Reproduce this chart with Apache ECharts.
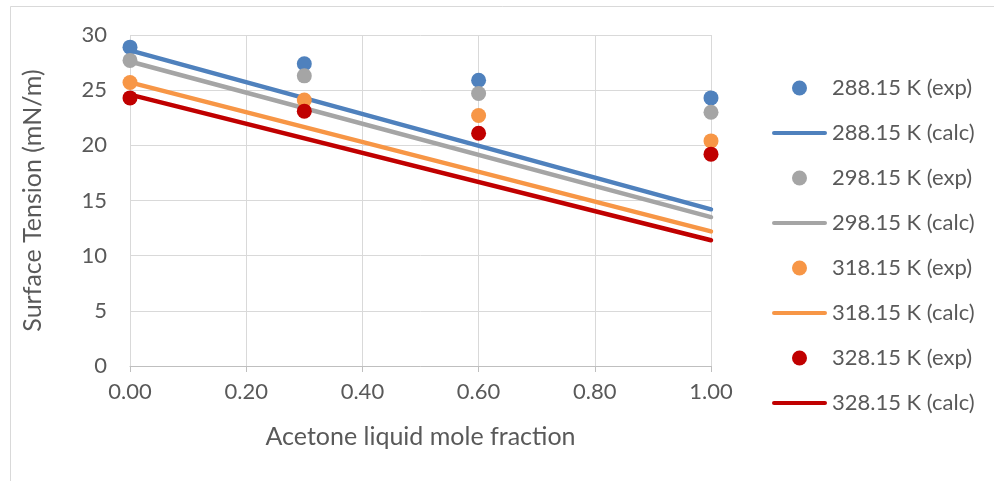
<!DOCTYPE html>
<html>
<head>
<meta charset="utf-8">
<script src="https://cdn.jsdelivr.net/npm/echarts@6/dist/echarts.min.js"></script>
<style>
  html, body { margin: 0; padding: 0; background: #fff; }
  #chart { width: 994px; height: 481px; }
</style>
</head>
<body>
<div id="chart"></div>
<script>
// Acetone mole fraction where surface tension was measured
const moleFraction = [0.00, 0.30, 0.60, 1.00];
// Ends of the calculated (model) lines
const calcX = [0.00, 1.00];

const temps = ['288.15 K', '298.15 K', '318.15 K', '328.15 K'];
const colors = ['#4F81BD', '#A5A5A5', '#F79646', '#C00000'];

// Measured surface tension, mN/m
const exp288 = [28.9, 27.4, 25.9, 24.3];
const exp298 = [27.7, 26.3, 24.7, 23.0];
const exp318 = [25.7, 24.1, 22.7, 20.4];
const exp328 = [24.3, 23.1, 21.1, 19.2];

// Calculated surface tension, mN/m
const calc288 = [28.6, 14.2];
const calc298 = [27.6, 13.5];
const calc318 = [25.7, 12.2];
const calc328 = [24.6, 11.4];

const expSets = [exp288, exp298, exp318, exp328];
const calcSets = [calc288, calc298, calc318, calc328];

const FONT = 'Lato, "Open Sans", sans-serif';
const TEXT = '#595959';
const TICK_SIZE = 22;
const TITLE_SIZE = 25;

// Short rounded bar used as the legend key of a calculated line
const LINE_KEY = 'path://M2,0 H53 A2,2 0 0 1 53,4 H2 A2,2 0 0 1 2,0 Z';

const series = [];
const legendItems = [];
temps.forEach((t, i) => {
  series.push({
    name: t + ' (exp)',
    type: 'scatter',
    symbol: 'circle',
    symbolSize: 15,
    itemStyle: { color: colors[i], opacity: 1 },
    data: moleFraction.map((x, k) => [x, expSets[i][k]]),
    z: 3
  });
  legendItems.push({ name: t + ' (exp)', icon: 'circle' });
  series.push({
    name: t + ' (calc)',
    type: 'line',
    symbol: 'none',
    showSymbol: false,
    lineStyle: { color: colors[i], width: 4.5, cap: 'round' },
    itemStyle: { color: colors[i] },
    data: calcX.map((x, k) => [x, calcSets[i][k]]),
    z: 3
  });
  legendItems.push({ name: t + ' (calc)', icon: LINE_KEY });
});

const chart = echarts.init(document.getElementById('chart'), null, { renderer: 'canvas' });
chart.setOption({
  animation: false,
  backgroundColor: '#fff',
  textStyle: { fontFamily: FONT, color: TEXT },
  graphic: [{
    type: 'rect',
    shape: { x: 10.5, y: 6.5, width: 1000, height: 500 },
    style: { fill: 'none', stroke: '#D9D9D9', lineWidth: 1 },
    silent: true,
    z: -1
  }],
  grid: { left: 130, right: 283, top: 35, bottom: 115 },
  xAxis: {
    type: 'value',
    min: 0, max: 1, interval: 0.2,
    name: 'Acetone liquid mole fraction',
    nameLocation: 'middle',
    nameGap: 58,
    nameTextStyle: { fontSize: TITLE_SIZE, color: TEXT, fontFamily: FONT },
    axisLine: { show: true, onZero: false, lineStyle: { color: '#BFBFBF', width: 1 } },
    axisTick: { show: true, length: 6, lineStyle: { color: '#BFBFBF' } },
    axisLabel: {
      fontSize: TICK_SIZE, color: TEXT, fontFamily: FONT, margin: 15,
      formatter: v => v.toFixed(2)
    },
    splitLine: { show: true, lineStyle: { color: '#D9D9D9', width: 1 } }
  },
  yAxis: {
    type: 'value',
    min: 0, max: 30, interval: 5,
    name: 'Surface Tension (mN/m)',
    nameLocation: 'middle',
    nameGap: 85,
    nameTextStyle: { fontSize: TITLE_SIZE, color: TEXT, fontFamily: FONT },
    axisLine: { show: false },
    axisTick: { show: false },
    axisLabel: { fontSize: TICK_SIZE, color: TEXT, fontFamily: FONT, margin: 23 },
    splitLine: { show: true, lineStyle: { color: '#D9D9D9', width: 1 } }
  },
  legend: {
    orient: 'vertical',
    left: 767,
    top: 72,
    itemWidth: 55,
    itemHeight: 15,
    itemGap: 23,
    textStyle: { fontSize: TICK_SIZE, color: TEXT, fontFamily: FONT },
    data: legendItems
  },
  series: series
});
</script>
</body>
</html>
